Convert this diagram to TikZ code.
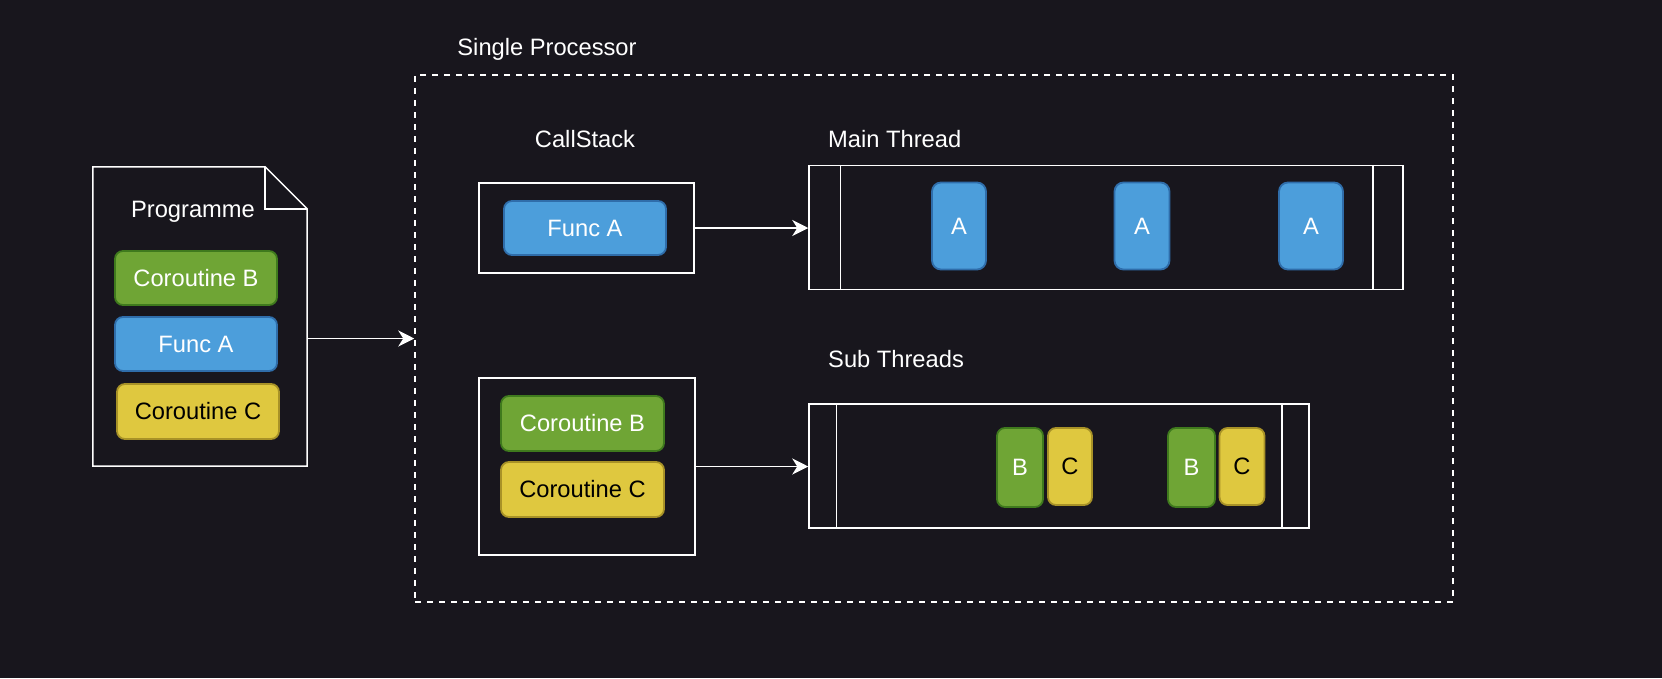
\documentclass[tikz,border=0pt]{standalone}
\usepackage{fontspec}
\setmainfont{Liberation Sans}
\usetikzlibrary{arrows.meta}
\definecolor{bg}{HTML}{18161D}
\definecolor{bluef}{HTML}{4C9EDB}
\definecolor{bluel}{HTML}{2F6DAA}
\definecolor{greenf}{HTML}{6FA535}
\definecolor{greenl}{HTML}{3F7A1D}
\definecolor{yellowf}{HTML}{DFC83F}
\definecolor{yellowl}{HTML}{A89227}
\tikzset{
  txt/.style={font=\fontsize{23.7}{28}\selectfont, inner sep=0pt},
  wbox/.style={draw=white, line width=1.5pt, minimum width=#1},
  pill/.style={rounded corners=8pt, line width=1.8pt, txt, minimum height=54pt},
  bluebox/.style={pill, fill=bluef, draw=bluel, text=white},
  greenbox/.style={pill, fill=greenf, draw=greenl, text=white},
  yellowbox/.style={pill, fill=yellowf, draw=yellowl, text=black},
  conn/.style={draw=white, line width=1.5pt, -{Stealth[length=16pt,width=16pt,inset=5pt]}},
}
\begin{document}
\begin{tikzpicture}[x=1pt,y=-1pt]
\fill[bg] (0,0) rectangle (1662,678);
\useasboundingbox (0,0) rectangle (1662,678);

% Programme document
\node[minimum width=214pt, minimum height=299pt, inner sep=0pt] (prog) at (200,316.5) {};
\draw[white, line width=1.5pt, line join=miter]
  (prog.north west) -- ([xshift=-42pt]prog.north east) -- ([yshift=-42pt]prog.north east)
  -- (prog.south east) -- (prog.south west) -- cycle;
\draw[white, line width=1.5pt]
  ([xshift=-42pt]prog.north east) -- ([xshift=-42pt,yshift=-42pt]prog.north east) -- ([yshift=-42pt]prog.north east);
\node[txt, text=white] (progt) at (193,212) {Programme};
\node[greenbox, minimum width=162pt] (pB) at (196,278) {Coroutine B};
\node[bluebox, minimum width=162pt] (pA) at (196,344) {Func A};
\node[yellowbox, minimum width=162pt, minimum height=55pt] (pC) at (198,411.5) {Coroutine C};

% Single processor
\node[draw=white, line width=1.5pt, dash pattern=on 6pt off 6pt, minimum width=1038pt, minimum height=527pt, inner sep=0pt] (proc) at (934,338.5) {};
\node[txt, text=white] (proct) at (547,49) {Single Processor};

% CallStack
\node[txt, text=white] (cst) at (585,139) {CallStack};
\node[wbox=215pt, minimum height=90pt, inner sep=0pt] (cs1) at (586.5,228) {};
\node[bluebox, minimum width=162pt] (csA) at (585,228) {Func A};
\node[wbox=216pt, minimum height=177pt, inner sep=0pt] (cs2) at (587,466.5) {};
\node[greenbox, minimum width=163pt, minimum height=55pt] (csB) at (582.5,423.5) {Coroutine B};
\node[yellowbox, minimum width=163pt, minimum height=55pt] (csC) at (582.5,489.5) {Coroutine C};

% Main thread
\node[txt, text=white, anchor=west] (mtt) at (828,139) {Main Thread};
\node[wbox=594pt, minimum height=124pt, inner sep=0pt] (mt) at (1106,227.5) {};
\draw[white, line width=1.5pt] ([xshift=32pt]mt.north west) -- ([xshift=32pt]mt.south west);
\draw[white, line width=1.5pt] ([xshift=-31pt]mt.north east) -- ([xshift=-31pt]mt.south east);
\node[bluebox, rounded corners=9pt, minimum width=54pt, minimum height=87pt] (a1) at (959,226) {A};
\node[bluebox, rounded corners=9pt, minimum width=55pt, minimum height=87pt] (a2) at (1142,226) {A};
\node[bluebox, rounded corners=9pt, minimum width=64pt, minimum height=87pt] (a3) at (1311,226) {A};

% Sub threads
\node[txt, text=white, anchor=west] (stt) at (828,359) {Sub Threads};
\node[wbox=500pt, minimum height=124pt, inner sep=0pt] (st) at (1059,466) {};
\draw[white, line width=1.5pt] ([xshift=28pt]st.north west) -- ([xshift=28pt]st.south west);
\draw[white, line width=1.5pt] ([xshift=-28pt]st.north east) -- ([xshift=-28pt]st.south east);
\node[greenbox, minimum width=46pt, minimum height=79pt] (b1) at (1020,467.5) {B};
\node[yellowbox, minimum width=44pt, minimum height=77pt] (c1) at (1070,466.5) {C};
\node[greenbox, minimum width=47pt, minimum height=79pt] (b2) at (1191.5,467.5) {B};
\node[yellowbox, minimum width=45pt, minimum height=77pt] (c2) at (1242,466.5) {C};

% Connectors
\draw[conn] (prog.east |- proc.west) -- (proc.west);
\draw[conn] (cs1.east) -- (mt.west |- cs1.east);
\draw[conn] (cs2.east) -- (st.west |- cs2.east);
\end{tikzpicture}
\end{document}
